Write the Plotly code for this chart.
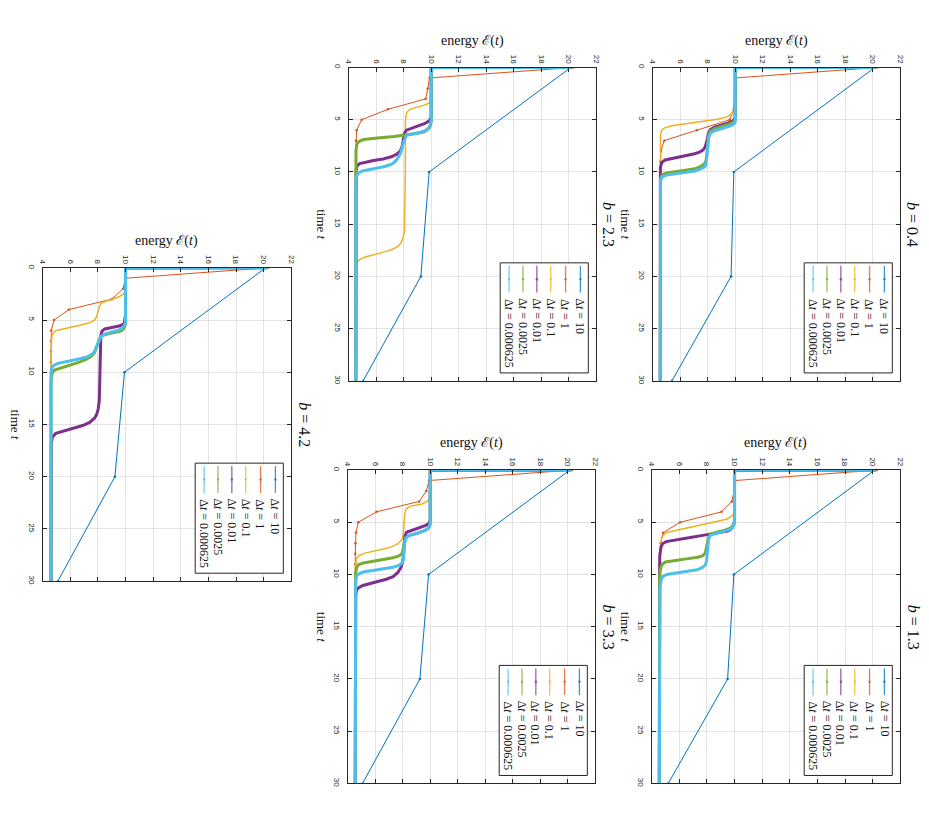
import plotly.graph_objects as go

W, H = 929, 836
OFF = 8  # margen del <body> en la página

# ── Textos / ejes ─────────────────────────────────────────────────────────────

B_VALUES = ["0.4", "1.3", "2.3", "3.3", "4.2"]
DT_NAMES = ["Δ<i>t</i> = 10", "Δ<i>t</i> = 1", "Δ<i>t</i> = 0.1",
            "Δ<i>t</i> = 0.01", "Δ<i>t</i> = 0.0025", "Δ<i>t</i> = 0.000625"]
ENERGY_TICKS = [4, 6, 8, 10, 12, 14, 16, 18, 20, 22]
TIME_TICKS = [0, 5, 10, 15, 20, 25, 30]

# ── Datos (tiempo t, energía E) ───────────────────────────────────────────────

T10 = [0, 10, 20, 30]
T1 = [0, 1, 2, 3, 4, 5, 6, 7, 8, 9, 10, 11, 12, 13, 14, 15,
      16, 17, 18, 19, 20, 21, 22, 23, 24, 25, 26, 27, 28, 29, 30]

# b = 0.4
B04_E10 = [20.15, 9.9, 9.7, 5.4]
B04_E1 = [20.3, 10.0, 10.0, 9.97, 9.9, 9.6, 7.2, 4.84, 4.6, 4.56, 4.55,
          4.55, 4.55, 4.55, 4.55, 4.55, 4.55, 4.55, 4.55, 4.55, 4.55,
          4.55, 4.55, 4.55, 4.55, 4.55, 4.55, 4.55, 4.55, 4.55, 4.55]
B04_T01 = [0, 0.1, 3.6, 4.0, 4.4, 4.7, 4.95, 5.15, 5.35, 5.55, 5.75, 6.0, 6.5, 30]
B04_E01 = [20.25, 10.0, 9.97, 9.9, 9.75, 9.45, 8.7, 7.6, 6.5, 5.5, 4.9, 4.65, 4.57, 4.55]
B04_T001 = [0, 0.01, 4.8, 5.1, 5.3, 5.5, 5.7, 5.95, 6.3, 6.8, 7.3, 7.6, 7.9, 8.1,
            8.25, 8.4, 8.55, 8.7, 8.85, 9.1, 9.6, 30]
B04_E001 = [20.25, 10.0, 10.0, 9.85, 9.5, 9.0, 8.5, 8.2, 8.05, 7.98, 7.9, 7.82, 7.65, 7.4,
            7.05, 6.5, 5.8, 5.25, 4.9, 4.65, 4.56, 4.55]
B04_T0025 = [0, 0.0025, 5.0, 5.25, 5.45, 5.65, 5.85, 6.1, 6.5, 7.2, 8.0, 8.6, 9.0, 9.25,
             9.5, 9.7, 9.8, 9.9, 10.0, 10.1, 10.25, 10.6, 30]
B04_E0025 = [20.25, 10.0, 10.0, 9.85, 9.5, 9.0, 8.5, 8.2, 8.07, 8.02, 7.98, 7.92, 7.85, 7.75,
             7.45, 7.07, 6.5, 5.9, 5.4, 5.0, 4.7, 4.57, 4.55]
B04_T000625 = [0, 0.000625, 5.2, 5.45, 5.65, 5.85, 6.05, 6.3, 6.7, 7.4, 8.2, 8.8, 9.2, 9.5,
               9.7, 9.9, 10.0, 10.1, 10.2, 10.3, 10.5, 10.9, 30]
B04_E000625 = [20.25, 10.0, 10.0, 9.85, 9.5, 9.0, 8.5, 8.2, 8.07, 8.02, 7.98, 7.93, 7.88, 7.8,
               7.5, 7.07, 6.6, 6.0, 5.4, 5.0, 4.67, 4.57, 4.55]

# b = 1.3
B13_E10 = [20.15, 9.95, 9.5, 5.2]
B13_E1 = [20.3, 10.05, 9.97, 9.8, 9.06, 6.06, 4.82, 4.65, 4.58, 4.56, 4.55,
          4.55, 4.55, 4.55, 4.55, 4.55, 4.55, 4.55, 4.55, 4.55, 4.55,
          4.55, 4.55, 4.55, 4.55, 4.55, 4.55, 4.55, 4.55, 4.55, 4.55]
B13_T01 = [0, 0.1, 3.9, 4.2, 4.45, 4.7, 4.95, 5.25, 5.5, 5.75, 6.0, 6.3, 6.7, 7.4, 8.5, 30]
B13_E01 = [20.25, 10.05, 10.0, 9.92, 9.75, 9.42, 8.6, 7.6, 6.75, 5.85, 5.0, 4.8, 4.7, 4.62, 4.57, 4.55]
B13_T001 = [0, 0.01, 4.8, 5.2, 5.5, 5.7, 5.85, 6.05, 6.25, 6.45, 6.65, 6.85, 7.05, 7.4, 8.3, 30]
B13_E001 = [20.25, 10.0, 10.0, 9.95, 9.83, 9.7, 9.5, 8.7, 7.7, 6.8, 5.9, 5.05, 4.78, 4.67, 4.58, 4.55]
B13_T0025 = [0, 0.0025, 5.0, 5.3, 5.55, 5.75, 5.95, 6.15, 6.5, 7.1, 7.6, 7.95, 8.2, 8.35,
             8.5, 8.65, 8.8, 9.0, 9.3, 10.0, 30]
B13_E0025 = [20.25, 10.0, 10.0, 9.9, 9.7, 9.3, 8.7, 8.25, 8.1, 8.03, 7.97, 7.88, 7.7, 7.35,
             6.5, 5.6, 5.0, 4.78, 4.66, 4.58, 4.55]
B13_T000625 = [0, 0.000625, 5.1, 5.4, 5.65, 5.85, 6.05, 6.25, 6.6, 7.2, 8.0, 8.7, 9.1, 9.35,
               9.55, 9.7, 9.85, 10.0, 10.2, 10.5, 11.3, 30]
B13_E000625 = [20.25, 10.0, 10.0, 9.9, 9.7, 9.3, 8.7, 8.25, 8.12, 8.08, 8.03, 7.97, 7.88, 7.65,
               7.3, 6.6, 5.9, 5.1, 4.8, 4.68, 4.6, 4.55]

# b = 2.3
B23_E10 = [20.15, 9.85, 9.25, 5.05]
B23_E1 = [20.3, 9.88, 9.75, 9.6, 6.85, 4.94, 4.58, 4.53, 4.52,
          4.52, 4.52, 4.52, 4.52, 4.52, 4.52, 4.52, 4.52, 4.52, 4.52, 4.52, 4.52,
          4.52, 4.52, 4.52, 4.52, 4.52, 4.52, 4.52, 4.52, 4.52, 4.52]
B23_T01 = [0, 0.1, 3.2, 3.4, 3.6, 3.8, 4.0, 4.3, 5.0, 10.0, 14.8, 15.7, 16.3, 16.8,
           17.1, 17.4, 17.65, 17.9, 18.15, 18.4, 18.7, 19.3, 30]
B23_E01 = [20.25, 10.05, 9.95, 9.85, 9.5, 9.0, 8.45, 8.22, 8.13, 8.12, 8.1, 8.05, 7.95, 7.8,
           7.6, 7.2, 6.6, 5.8, 5.2, 4.8, 4.57, 4.53, 4.52]
B23_T001 = [0, 0.01, 4.8, 5.1, 5.35, 5.55, 5.75, 6.0, 6.3, 7.0, 7.6, 8.0, 8.3, 8.55,
            8.75, 8.9, 9.05, 9.2, 9.4, 9.8, 30]
B23_E001 = [20.25, 10.0, 10.0, 9.85, 9.55, 9.1, 8.6, 8.2, 8.05, 7.98, 7.88, 7.75, 7.5, 7.1,
            6.5, 5.8, 5.2, 4.8, 4.62, 4.54, 4.52]
B23_T0025 = [0, 0.0025, 5.2, 5.5, 5.75, 5.95, 6.15, 6.3, 6.45, 6.6, 6.75, 6.9, 7.05, 7.25,
             7.6, 8.2, 30]
B23_E0025 = [20.25, 10.0, 10.0, 9.95, 9.85, 9.7, 9.5, 9.0, 8.3, 7.3, 6.1, 5.1, 4.8, 4.63,
             4.56, 4.53, 4.52]
B23_T000625 = [0, 0.000625, 5.0, 5.4, 5.7, 5.9, 6.05, 6.2, 6.35, 6.5, 7.1, 7.7, 8.1, 8.5,
               8.9, 9.2, 9.45, 9.6, 9.75, 9.9, 10.1, 10.4, 11.0, 30]
B23_E000625 = [20.25, 10.0, 10.0, 9.97, 9.9, 9.8, 9.6, 9.25, 8.7, 8.2, 8.0, 7.9, 7.8, 7.65,
               7.45, 7.2, 6.7, 6.2, 5.6, 5.0, 4.7, 4.58, 4.53, 4.52]

# b = 3.3
B33_E10 = [20.15, 9.88, 9.25, 5.08]
B33_E1 = [20.3, 9.92, 9.72, 9.2, 6.09, 4.77, 4.6, 4.56, 4.55,
          4.55, 4.55, 4.55, 4.55, 4.55, 4.55, 4.55, 4.55, 4.55, 4.55, 4.55, 4.55,
          4.55, 4.55, 4.55, 4.55, 4.55, 4.55, 4.55, 4.55, 4.55, 4.55]
B33_T01 = [0, 0.1, 2.6, 2.85, 3.05, 3.25, 3.45, 3.7, 4.2, 5.1, 6.1, 6.5, 6.8, 7.1,
           7.35, 7.55, 7.75, 7.95, 8.2, 8.5, 9.2, 30]
B33_E01 = [20.25, 10.05, 10.0, 9.9, 9.7, 9.4, 8.6, 8.25, 8.15, 8.12, 8.05, 7.97, 7.85, 7.6,
           7.2, 6.6, 5.9, 5.25, 4.8, 4.63, 4.57, 4.55]
B33_T001 = [0, 0.01, 4.8, 5.05, 5.3, 5.5, 5.7, 5.95, 6.4, 7.05, 8.3, 8.9, 9.3, 9.8,
            10.2, 10.45, 10.65, 10.85, 11.05, 11.25, 11.5, 12.0, 30]
B33_E001 = [20.25, 10.0, 10.0, 9.92, 9.68, 9.2, 8.72, 8.28, 8.15, 8.12, 8.05, 7.97, 7.88, 7.65,
            7.3, 6.8, 6.2, 5.6, 5.1, 4.8, 4.64, 4.58, 4.55]
B33_T0025 = [0, 0.0025, 5.2, 5.45, 5.65, 5.85, 6.05, 6.25, 6.5, 7.05, 7.7, 8.0, 8.2, 8.4,
             8.57, 8.75, 8.9, 9.05, 9.3, 9.9, 30]
B33_E0025 = [20.25, 10.0, 10.0, 9.93, 9.8, 9.5, 9.05, 8.5, 8.22, 8.12, 8.05, 7.95, 7.76, 7.3,
             6.57, 5.8, 5.13, 4.8, 4.65, 4.58, 4.55]
B33_T000625 = [0, 0.000625, 5.1, 5.4, 5.65, 5.85, 6.05, 6.25, 6.5, 7.1, 8.0, 8.6, 8.9, 9.1,
               9.3, 9.45, 9.6, 9.75, 9.95, 10.1, 10.7, 30]
B33_E000625 = [20.25, 10.0, 10.0, 9.93, 9.8, 9.5, 9.05, 8.5, 8.22, 8.12, 8.08, 8.05, 7.95, 7.76,
               7.3, 6.6, 5.9, 5.13, 4.8, 4.65, 4.58, 4.55]

# b = 4.2
B42_E10 = [20.15, 9.92, 9.23, 5.1]
B42_E1 = [20.3, 9.97, 9.83, 9.0, 5.9, 4.82, 4.62, 4.6,
          4.6, 4.6, 4.6, 4.6, 4.6, 4.6, 4.6, 4.6, 4.6, 4.6, 4.6, 4.6,
          4.6, 4.6, 4.6, 4.6, 4.6, 4.6, 4.6, 4.6, 4.6, 4.6, 4.6]
B42_T01 = [0, 0.1, 2.2, 2.5, 2.75, 3.0, 3.2, 3.4, 3.75, 4.3, 4.7, 5.0, 5.2, 5.4,
           5.6, 5.8, 6.0, 6.2, 6.5, 7.1, 30]
B42_E01 = [20.25, 10.05, 10.0, 9.85, 9.55, 9.1, 8.58, 8.22, 8.1, 8.0, 7.9, 7.75, 7.5, 7.0,
           6.35, 5.6, 5.0, 4.78, 4.68, 4.62, 4.6]
B42_T001 = [0, 0.01, 4.5, 5.0, 5.35, 5.55, 5.7, 5.85, 6.05, 6.4, 7.0, 10.0, 12.7, 13.5,
            14.0, 14.4, 14.8, 15.1, 15.35, 15.6, 15.85, 16.2, 16.8, 30]
B42_E001 = [20.25, 10.0, 10.0, 9.97, 9.9, 9.6, 9.1, 8.5, 8.3, 8.22, 8.2, 8.15, 8.1, 8.02,
            7.92, 7.75, 7.4, 6.9, 6.3, 5.6, 4.95, 4.7, 4.63, 4.6]
B42_T0025 = [0, 0.0025, 5.3, 5.6, 5.85, 6.05, 6.25, 6.45, 6.7, 7.1, 7.7, 8.2, 8.5, 8.8,
             9.1, 9.35, 9.6, 9.8, 10.0, 10.4, 11.0, 30]
B42_E0025 = [20.25, 10.0, 10.0, 9.95, 9.85, 9.66, 9.0, 8.35, 8.15, 8.05, 7.9, 7.72, 7.5, 7.1,
             6.5, 5.9, 5.22, 4.85, 4.72, 4.63, 4.6, 4.6]
B42_T000625 = [0, 0.000625, 5.1, 5.4, 5.7, 5.95, 6.15, 6.35, 6.6, 7.1, 7.9, 8.25, 8.5, 8.7,
               8.85, 9.0, 9.15, 9.3, 9.46, 9.7, 10.2, 30]
B42_E000625 = [20.25, 10.0, 10.0, 9.95, 9.8, 9.54, 9.0, 8.5, 8.22, 8.05, 7.8, 7.6, 7.26, 6.7,
               6.18, 5.6, 5.1, 4.85, 4.7, 4.64, 4.6, 4.6]

PANELS = [
    [(T10, B04_E10), (T1, B04_E1), (B04_T01, B04_E01), (B04_T001, B04_E001),
     (B04_T0025, B04_E0025), (B04_T000625, B04_E000625)],
    [(T10, B13_E10), (T1, B13_E1), (B13_T01, B13_E01), (B13_T001, B13_E001),
     (B13_T0025, B13_E0025), (B13_T000625, B13_E000625)],
    [(T10, B23_E10), (T1, B23_E1), (B23_T01, B23_E01), (B23_T001, B23_E001),
     (B23_T0025, B23_E0025), (B23_T000625, B23_E000625)],
    [(T10, B33_E10), (T1, B33_E1), (B33_T01, B33_E01), (B33_T001, B33_E001),
     (B33_T0025, B33_E0025), (B33_T000625, B33_E000625)],
    [(T10, B42_E10), (T1, B42_E1), (B42_T01, B42_E01), (B42_T001, B42_E001),
     (B42_T0025, B42_E0025), (B42_T000625, B42_E000625)],
]

# ── Estilo ────────────────────────────────────────────────────────────────────

COLORS = ["#0072BD", "#D95319", "#EDB120", "#7E2F8E", "#77AC30", "#4DBEEE"]
WIDTHS = [1, 1, 1.5, 3, 3, 3]
AXIS_COL = "#262626"
GRID_COL = "#e3e3e3"
SERIF = "Liberation Serif, DejaVu Serif, serif"
SANS = "Liberation Sans, Arial, sans-serif"

# recuadro de cada panel en píxeles de la página: izq, der, arriba, abajo
BOXES = [(654, 904, 65, 381), (653, 904, 471, 787), (347, 597, 65, 381),
         (346, 596, 471, 787), (38, 289, 267, 583)]
# columnas de la leyenda (px desde el borde izquierdo del recuadro)
LEG_COLS = [81, 66, 51, 37, 23, 9]

FW, FH = W - OFF, H - OFF


def px(x):
    return (x - OFF) / FW


def py(y):
    return 1 - (y - OFF) / FH


def note(text, x, y, size, angle=0, xa="center", ya="middle"):
    return dict(text=text, x=px(x), y=py(y), xref="paper", yref="paper",
                xanchor=xa, yanchor=ya, textangle=angle, showarrow=False,
                font=dict(family=SERIF, size=size, color="#111"))


fig = go.Figure()
shapes, annotations, axes = [], [], {}

for i, (bval, box, series) in enumerate(zip(B_VALUES, BOXES, PANELS)):
    n = "" if i == 0 else str(i + 1)
    left, right, top, bottom = box

    for k, (t, e) in enumerate(series):
        fig.add_trace(go.Scatter(
            x=e, y=t, xaxis="x" + n, yaxis="y" + n,
            mode="lines+markers" if k < 2 else "lines",
            line=dict(color=COLORS[k], width=WIDTHS[k]),
            marker=dict(size=2.5, color=COLORS[k]),
            name=DT_NAMES[k], showlegend=False,
        ))

    common = dict(
        ticks="inside", ticklen=4, tickcolor=AXIS_COL, mirror="ticks",
        showline=True, linecolor=AXIS_COL, linewidth=1,
        showgrid=True, gridcolor=GRID_COL, zeroline=False, tickangle=90,
        tickfont=dict(family=SANS, size=8, color=AXIS_COL),
    )
    axes["xaxis" + n] = dict(domain=[px(left), px(right)], anchor="y" + n,
                             range=[4, 22], side="top", tickvals=ENERGY_TICKS, **common)
    axes["yaxis" + n] = dict(domain=[py(bottom), py(top)], anchor="x" + n,
                             range=[30, 0], tickvals=TIME_TICKS,
                             ticklabelstandoff=3, **common)

    cx, cy = (left + right) / 2, (top + bottom) / 2
    annotations += [
        note("energy ℰ(<i>t</i>)", cx, top - 27, 14),
        note("time <i>t</i>", left - 27, cy, 13, angle=90),
        note(f"<i>b</i> = {bval}", right + 13, cy, 16, angle=90),
    ]

    # leyenda girada, dibujada a mano
    lx1, ly1 = right - 8, bottom - 8
    lx0, ly0 = lx1 - 89, ly1 - 111
    shapes.append(dict(type="rect", xref="paper", yref="paper",
                       x0=px(lx0), x1=px(lx1), y0=py(ly1), y1=py(ly0),
                       fillcolor="white", line=dict(color=AXIS_COL, width=1)))
    for k, off in enumerate(LEG_COLS):
        xx = lx0 + off
        shapes.append(dict(type="line", xref="paper", yref="paper",
                           x0=px(xx), x1=px(xx), y0=py(ly0 + 3), y1=py(ly0 + 30),
                           opacity=0.75, line=dict(color=COLORS[k], width=1.3)))
        shapes.append(dict(type="circle", xref="paper", yref="paper",
                           x0=px(xx - 1.2), x1=px(xx + 1.2), y0=py(ly0 + 17.7), y1=py(ly0 + 15.3),
                           fillcolor=COLORS[k], opacity=0.75, line=dict(width=0)))
        annotations.append(note(DT_NAMES[k], xx, ly0 + 34, 12, angle=90, ya="top"))

fig.update_layout(
    width=FW, height=FH,
    margin=dict(l=0, r=0, t=0, b=0),
    paper_bgcolor="white", plot_bgcolor="white",
    showlegend=False,
    shapes=shapes, annotations=annotations,
    **axes,
)

fig.write_html("out.html")
